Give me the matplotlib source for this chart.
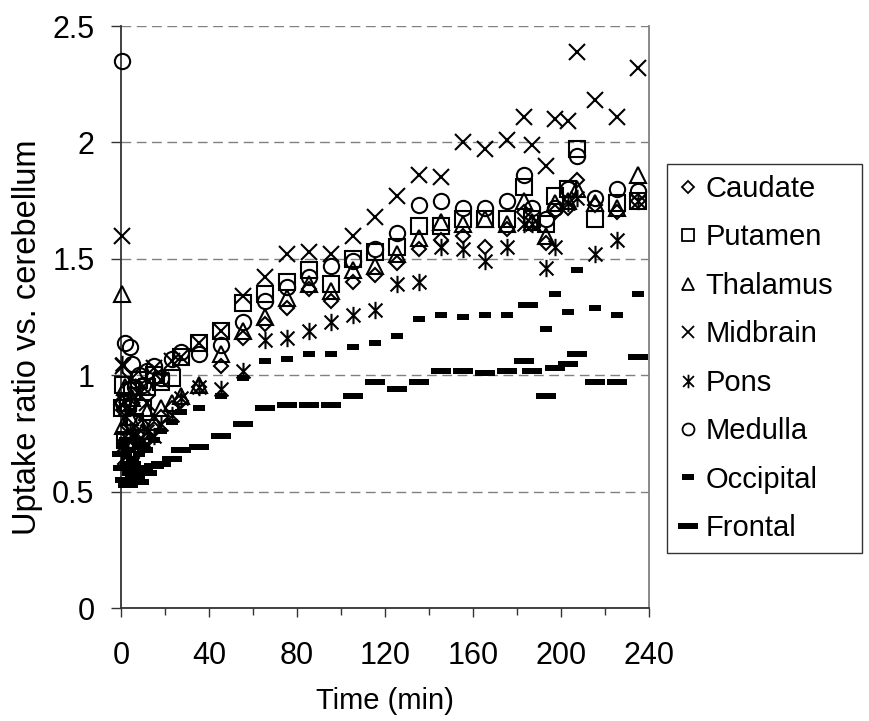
import matplotlib
matplotlib.use("Agg")
import matplotlib.pyplot as plt
from matplotlib.path import Path
from matplotlib.lines import Line2D

# Sampling times (min)
time_min = [0.3, 1, 2, 3, 4, 5, 6.5, 8, 10, 12, 15, 18, 23, 27.5, 35.5, 45.5,
            55.5, 65.5, 75.5, 85.5, 95.5, 105.5, 115.5, 125.5, 135.5, 145.5,
            155.5, 165.5, 175.5, 183, 187, 193, 197.5, 203, 207.5, 215.5,
            225.5, 235]

# Uptake ratio vs. cerebellum for each region
caudate = [0.88, 0.85, 0.62, 0.78, 0.70, 0.88, 0.66, 0.74, 0.78, 0.72,
           0.77, 0.82, 0.86, 0.89, 0.95, 1.04, 1.16,
           1.22, 1.29, 1.37, 1.32, 1.40, 1.43, 1.48, 1.54,
           1.58, 1.60, 1.55, 1.63,
           1.70, 1.65, 1.57, 1.70, 1.72, 1.84,
           1.73, 1.70, 1.75]
putamen = [0.86, 0.96, 0.72, 0.88, 0.65, 0.93, 0.80, 0.98, 0.86, 0.95,
           1.00, 0.97, 0.99, 1.08, 1.14, 1.19, 1.31,
           1.35, 1.40, 1.45, 1.39, 1.50, 1.53, 1.55, 1.64,
           1.64, 1.67, 1.67, 1.67,
           1.81, 1.67, 1.65, 1.77, 1.80, 1.97,
           1.67, 1.74, 1.75]
thalamus = [1.35, 0.78, 0.95, 0.64, 0.82, 0.90, 0.72, 0.80, 0.76, 0.84,
            0.80, 0.86, 0.88, 0.91, 0.96, 1.09, 1.19,
            1.25, 1.33, 1.39, 1.36, 1.45, 1.47, 1.52, 1.59,
            1.66, 1.65, 1.67, 1.65,
            1.75, 1.66, 1.60, 1.74, 1.75, 1.80,
            1.74, 1.72, 1.86]
midbrain = [1.60, 1.04, 0.88, 0.72, 0.98, 0.85, 0.70, 0.92, 0.95, 0.88,
            1.03, 0.98, 1.06, 1.08, 1.14, 1.19, 1.34,
            1.42, 1.52, 1.53, 1.52, 1.60, 1.68, 1.77, 1.86,
            1.85, 2.00, 1.97, 2.01,
            2.11, 1.99, 1.90, 2.10, 2.09, 2.39,
            2.18, 2.11, 2.32]
pons = [1.05, 0.70, 0.86, 0.66, 0.76, 0.62, 0.74, 0.70, 0.72, 0.76,
        0.74, 0.79, 0.83, 0.90, 0.95, 0.94, 1.02,
        1.15, 1.16, 1.19, 1.23, 1.26, 1.28, 1.39, 1.40,
        1.55, 1.54, 1.49, 1.55,
        1.65, 1.65, 1.46, 1.55, 1.74, 1.76,
        1.52, 1.58, 1.75]
medulla = [2.35, 0.88, 1.14, 0.86, 1.12, 1.05, 0.95, 1.00, 0.96, 1.02,
           1.04, 0.99, 1.07, 1.10, 1.09, 1.13, 1.23,
           1.32, 1.38, 1.42, 1.47, 1.49, 1.54, 1.61, 1.73,
           1.75, 1.72, 1.72, 1.75,
           1.86, 1.72, 1.67, 1.72, 1.80, 1.94,
           1.76, 1.80, 1.79]
occipital = [0.70, 0.66, 0.72, 0.60, 0.68, 0.64, 0.62, 0.66, 0.70, 0.68,
             0.72, 0.76, 0.80, 0.84, 0.86, 0.91, 0.99,
             1.06, 1.07, 1.09, 1.09, 1.12, 1.14, 1.17, 1.24,
             1.26, 1.25, 1.26, 1.26,
             1.30, 1.30, 1.20, 1.35, 1.27, 1.45,
             1.29, 1.26, 1.35]
frontal = [0.66, 0.60, 0.55, 0.53, 0.62, 0.58, 0.56, 0.54, 0.60, 0.58,
           0.61, 0.62, 0.64, 0.68, 0.69, 0.74, 0.79,
           0.86, 0.87, 0.87, 0.87, 0.91, 0.97, 0.94, 0.97,
           1.02, 1.02, 1.01, 1.02,
           1.06, 1.02, 0.91, 1.03, 1.05, 1.09,
           0.97, 0.97, 1.08]

x_ticks = [0, 40, 80, 120, 160, 200, 240]
y_ticks = [0, 0.5, 1, 1.5, 2, 2.5]
y_tick_labels = ["0", "0.5", "1", "1.5", "2", "2.5"]

plt.rcParams["font.family"] = ["Liberation Sans", "DejaVu Sans"]

# Custom marker shapes: asterisk (x with a vertical bar) and two bar widths
asterisk = Path([(0, -1), (0, 1), (-0.8, -0.8), (0.8, 0.8), (-0.8, 0.8), (0.8, -0.8)],
                [Path.MOVETO, Path.LINETO, Path.MOVETO, Path.LINETO, Path.MOVETO, Path.LINETO])
short_bar = [(-1, -0.5), (1, -0.5), (1, 0.5), (-1, 0.5), (-1, -0.5)]
long_bar = [(-1, -0.32), (1, -0.32), (1, 0.32), (-1, 0.32), (-1, -0.32)]

series = [
    ("Caudate", caudate, dict(marker="D", ms=7.6, mfc="white", mec="black", mew=1.5)),
    ("Putamen", putamen, dict(marker="s", ms=11.0, mfc="none", mec="black", mew=1.5)),
    ("Thalamus", thalamus, dict(marker="^", ms=11.0, mfc="none", mec="black", mew=1.5)),
    ("Midbrain", midbrain, dict(marker="x", ms=11.0, mec="black", mew=1.5)),
    ("Pons", pons, dict(marker=asterisk, ms=12.5, mfc="none", mec="black", mew=1.5)),
    ("Medulla", medulla, dict(marker="o", ms=11.0, mfc="none", mec="black", mew=1.5)),
    ("Occipital", occipital, dict(marker=short_bar, ms=8.8, mfc="black", mec="black", mew=0)),
    ("Frontal", frontal, dict(marker=long_bar, ms=14.6, mfc="black", mec="black", mew=0)),
]

fig = plt.figure(figsize=(8.7, 7.21), dpi=100)
ax = fig.add_axes([121 / 870, 1 - 608 / 721, (649 - 121) / 870, (608 - 26) / 721])

handles = []
for name, values, style in series:
    ax.plot(time_min, values, linestyle="none", clip_on=False, zorder=3, **style)
    legend_style = dict(style)
    if name not in ("Occipital", "Frontal"):
        legend_style["ms"] = style["ms"] * 0.78
        legend_style["mew"] = 1.3
    handles.append(Line2D([], [], linestyle="none", label=name, **legend_style))

ax.set_xlim(0, 240)
ax.set_ylim(0, 2.5)
ax.set_xticks(x_ticks)
ax.set_xticks([20, 60, 100, 140, 180, 220], minor=True)
ax.set_yticks(y_ticks)
ax.set_yticklabels(y_tick_labels)

ax.yaxis.grid(True, color="#808080", linestyle=(0, (7, 4)), linewidth=1.0)
ax.set_axisbelow(True)

for side in ("left", "bottom"):
    ax.spines[side].set_color("#333333")
    ax.spines[side].set_linewidth(1.3)
ax.spines["right"].set_color("#808080")
ax.spines["right"].set_linewidth(1.3)
ax.spines["top"].set_visible(False)

ax.tick_params(axis="both", which="major", labelsize=22, direction="out",
               color="#333333", width=1.0)
ax.tick_params(axis="x", which="major", length=6.5, pad=17)
ax.tick_params(axis="x", which="minor", length=4.8, width=1.0, color="#333333")
ax.tick_params(axis="y", which="major", length=7, pad=12)

ax.set_xlabel("Time (min)", fontsize=21, labelpad=12)
ax.set_ylabel("Uptake ratio vs. cerebellum", fontsize=23.5)
ax.yaxis.set_label_coords(-0.148, 0.466)

leg_top = 1 - 164 / 721
leg = fig.legend(handles=handles, loc="upper left",
                 bbox_to_anchor=(667 / 870, leg_top - 0.01, (862 - 667) / 870, 0.01),
                 mode="expand", frameon=True, fancybox=False, fontsize=21,
                 borderaxespad=0, borderpad=0.38, labelspacing=0.7,
                 handlelength=0.7, handletextpad=0.25, numpoints=1)
leg.get_frame().set_edgecolor("black")
leg.get_frame().set_linewidth(1.0)

fig.savefig("out.png", dpi=100)
